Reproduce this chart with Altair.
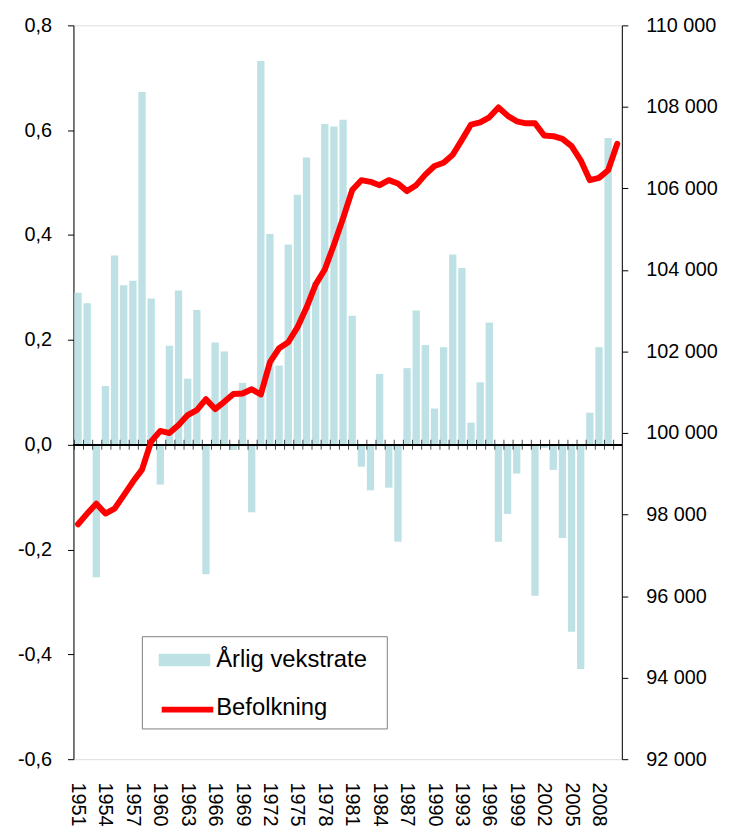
import altair as alt
import pandas as pd

years = list(range(1951, 2011))
label_years = [1951, 1954, 1957, 1960, 1963, 1966, 1969, 1972, 1975, 1978,
               1981, 1984, 1987, 1990, 1993, 1996, 1999, 2002, 2005, 2008]

# Årlig vekstrate (%), 1951-2009 (no bar for 2010)
rate = [0.290, 0.270, -0.253, 0.112, 0.361, 0.304, 0.313, 0.673, 0.279, -0.076,
        0.189, 0.294, 0.126, 0.257, -0.247, 0.195, 0.178, -0.010, 0.118, -0.129,
        0.732, 0.402, 0.151, 0.382, 0.477, 0.548, 0.310, 0.612, 0.607, 0.620,
        0.246, -0.042, -0.087, 0.135, -0.082, -0.185, 0.146, 0.256, 0.190, 0.069,
        0.186, 0.363, 0.337, 0.042, 0.119, 0.233, -0.185, -0.132, -0.055, 0.000,
        -0.288, -0.006, -0.048, -0.178, -0.357, -0.428, 0.061, 0.186, 0.585, None]

# Befolkning, 1951-2010
population = [97763, 98025, 98268, 98025, 98146, 98470, 98804, 99103, 99792, 100052,
              100000, 100198, 100442, 100563, 100831, 100588, 100766, 100960, 100970, 101074,
              100946, 101739, 102080, 102226, 102591, 103078, 103647, 104012, 104621, 105268,
              105960, 106203, 106162, 106080, 106203, 106120, 105935, 106081, 106339, 106551,
              106631, 106826, 107191, 107566, 107622, 107744, 107987, 107785, 107646, 107598,
              107598, 107298, 107281, 107216, 107038, 106690, 106203, 106259, 106446, 107094]

left_ticks = [-0.6, -0.4, -0.2, 0.0, 0.2, 0.4, 0.6, 0.8]
right_ticks = [92000, 94000, 96000, 98000, 100000, 102000, 104000, 106000, 108000, 110000]
series_names = ["Årlig vekstrate", "Befolkning"]

BAR_COLOR = "#bde1e5"
LINE_COLOR = "#ff0000"
FONT = "Liberation Sans"
AXIS_FS = 20

df = pd.DataFrame({"year": years, "rate": rate, "pop": population,
                   "bar_series": series_names[0], "line_series": series_names[1]})

# legend with the box and both labels (second swatch left empty for the line legend)
bar_legend = alt.Legend(
    title="\u00a0", titleOrient="right", titlePadding=11, titleFontSize=23,
    orient="none", legendX=69, legendY=616, direction="vertical",
    padding=9, fillColor="white", strokeColor="#7f7f7f",
    symbolType="M-1.733,-0.423H1.733V0.423H-1.733Z", symbolSize=900,
    symbolStrokeWidth=0, symbolOffset=19, labelOffset=17, rowPadding=21,
    labelFont=FONT, labelFontSize=24, labelColor="black", labelLimit=400, zindex=1,
)
# line swatch laid over the second row of the legend above (no label of its own)
line_legend = alt.Legend(
    title=None, orient="none", legendX=69, legendY=663, direction="vertical",
    padding=9, symbolType="M-1.733,0H1.733", symbolSize=900,
    symbolStrokeWidth=6, symbolOffset=19, labelOffset=17,
    labelFont=FONT, labelFontSize=23, labelExpr="''", zindex=2,
)

x_enc = alt.X(
    "year:O",
    scale=alt.Scale(paddingInner=0.2, paddingOuter=0.1),
    axis=alt.Axis(
        values=label_years, labelAngle=90, labelAlign="left", labelBaseline="middle",
        ticks=False, tickSize=0, domain=False, labelPadding=23, title=None,
        labelFont=FONT, labelFontSize=AXIS_FS, labelColor="black",
    ),
)

base = alt.Chart(df)

bars = base.transform_filter("isValid(datum.rate)").mark_bar().encode(
    x=x_enc,
    y=alt.Y(
        "rate:Q",
        stack=None,
        scale=alt.Scale(domain=[-0.6, 0.8], nice=False, zero=False),
        axis=alt.Axis(
            values=left_ticks, orient="left", title=None, grid=False,
            labelExpr="(datum.value < 0 ? '-' : '') + replace(format(abs(datum.value), '.1f'), '.', ',')",
            labelFont=FONT, labelFontSize=AXIS_FS, labelColor="black", labelPadding=16,
            tickSize=6, tickColor="black", domainColor="black", domainWidth=1,
        ),
    ),
    fill=alt.Fill(
        "bar_series:N",
        scale=alt.Scale(domain=series_names, range=[BAR_COLOR, "transparent"]),
        legend=bar_legend,
    ),
)

zero_rule = base.mark_rule(color="black", strokeWidth=1).encode(y=alt.YDatum(0))

zero_ticks = base.mark_tick(orient="vertical", size=10, thickness=1, color="black").encode(
    x=alt.X("year:O", bandPosition=0),
    y=alt.YDatum(0),
)

left = alt.layer(bars, zero_rule, zero_ticks)

line = base.mark_line(strokeWidth=6, strokeJoin="round", strokeCap="round").encode(
    x=alt.X("year:O"),
    y=alt.Y(
        "pop:Q",
        scale=alt.Scale(domain=[92000, 110000], nice=False, zero=False),
        axis=alt.Axis(
            values=right_ticks, orient="right", title=None, grid=False,
            labelExpr="replace(format(datum.value, ','), ',', ' ')",
            labelFont=FONT, labelFontSize=AXIS_FS, labelColor="black", labelPadding=18,
            tickSize=6, tickColor="black", domainColor="black", domainWidth=1,
        ),
    ),
    stroke=alt.Stroke(
        "line_series:N",
        scale=alt.Scale(domain=[series_names[1]], range=[LINE_COLOR]),
        legend=line_legend,
    ),
)

chart = (
    alt.layer(left, line)
    .resolve_scale(y="independent")
    .properties(
        width=553,
        height=740,
        autosize=alt.AutoSizeParams(type="none"),
        padding={"left": 66, "top": 14, "right": 100, "bottom": 80},
    )
    .configure_view(stroke="#808080", strokeWidth=1.5)
    .configure(font=FONT)
)

chart.save("out.html", embed_options={"renderer": "svg", "actions": False})
